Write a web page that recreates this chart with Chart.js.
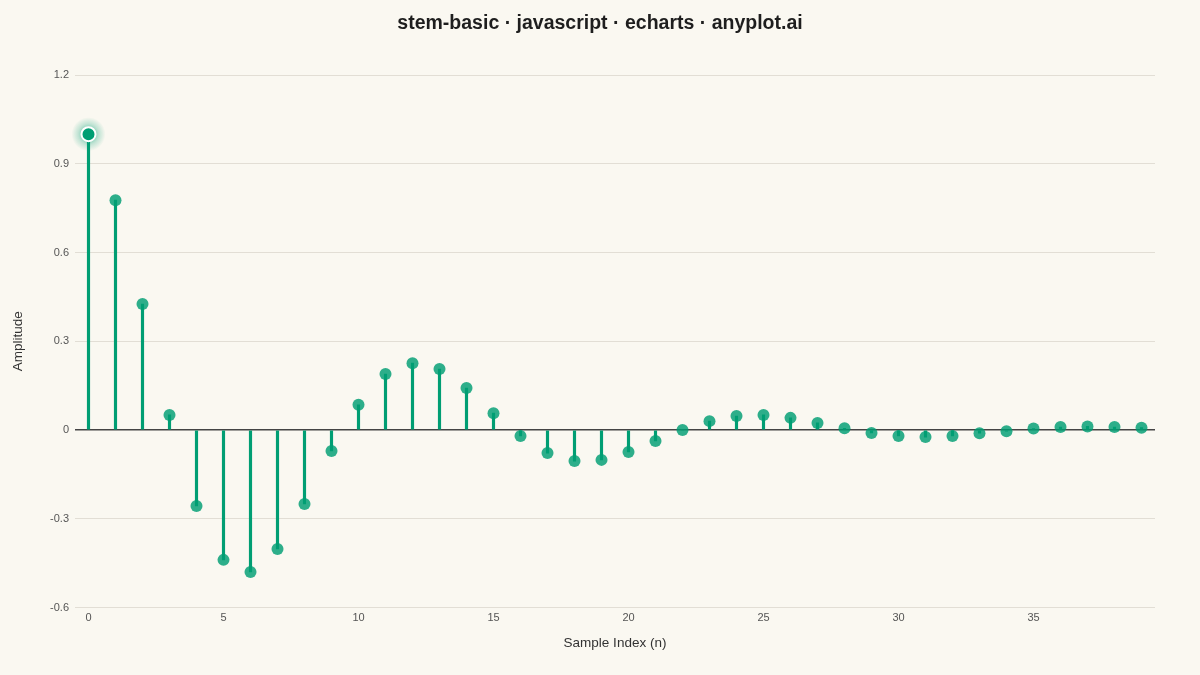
<!DOCTYPE html>
<html>
<head>
<meta charset="utf-8">
<script src="https://cdn.jsdelivr.net/npm/chart.js@4.4.1/dist/chart.umd.min.js"></script>
<style>
  html, body { margin: 0; padding: 0; background: #FAF8F1; }
  #wrap { width: 1200px; height: 675px; }
</style>
</head>
<body>
<div id="wrap"><canvas id="stem" width="1200" height="675"></canvas></div>
<script>
// sample indices 0..39 and amplitudes
const sampleIndex = [
    0, 1, 2, 3, 4, 5, 6, 7, 8, 9,
    10, 11, 12, 13, 14, 15, 16, 17, 18, 19,
    20, 21, 22, 23, 24, 25, 26, 27, 28, 29,
    30, 31, 32, 33, 34, 35, 36, 37, 38, 39
];
const amplitude = [
    1.000, 0.777, 0.426, 0.051, -0.257, -0.439, -0.480, -0.402, -0.250, -0.071,
    0.085, 0.189, 0.226, 0.206, 0.142, 0.057, -0.020, -0.078, -0.105, -0.101,
    -0.074, -0.037, 0.000, 0.030, 0.047, 0.051, 0.041, 0.024, 0.006, -0.010,
    -0.020, -0.024, -0.020, -0.011, -0.004, 0.005, 0.010, 0.012, 0.010, 0.008
];
const yTicks = [-0.6, -0.3, 0, 0.3, 0.6, 0.9, 1.2];

const green = '#009E73';
const font = '"Liberation Sans", Arial, sans-serif';

// soft halo behind the first (peak) sample
const glowPlugin = {
    id: 'glow',
    beforeDatasetsDraw(chart) {
        const pt = chart.getDatasetMeta(1).data[0];
        if (!pt) return;
        const ctx = chart.ctx;
        ctx.save();
        const g = ctx.createRadialGradient(pt.x, pt.y, 4, pt.x, pt.y, 17);
        g.addColorStop(0, 'rgba(0, 158, 115, 0.55)');
        g.addColorStop(0.5, 'rgba(0, 158, 115, 0.22)');
        g.addColorStop(1, 'rgba(0, 158, 115, 0)');
        ctx.fillStyle = g;
        ctx.beginPath();
        ctx.arc(pt.x, pt.y, 17, 0, Math.PI * 2);
        ctx.fill();
        ctx.restore();
    }
};

new Chart(document.getElementById('stem').getContext('2d'), {
    data: {
        labels: sampleIndex,
        datasets: [
            {
                type: 'bar',
                data: amplitude,
                backgroundColor: green,
                barThickness: 2.5,
                order: 2
            },
            {
                type: 'line',
                data: amplitude,
                showLine: false,
                pointRadius: sampleIndex.map(i => i === 0 ? 7 : 6),
                pointBackgroundColor: sampleIndex.map(i => i === 0 ? green : 'rgba(0, 158, 115, 0.82)'),
                pointBorderColor: sampleIndex.map(i => i === 0 ? '#FFFFFF' : 'rgba(0, 0, 0, 0)'),
                pointBorderWidth: sampleIndex.map(i => i === 0 ? 2 : 0),
                order: 1
            }
        ]
    },
    options: {
        responsive: false,
        devicePixelRatio: 1,
        animation: false,
        layout: { padding: 0 },
        plugins: {
            legend: { display: false },
            tooltip: { enabled: false },
            title: {
                display: true,
                text: 'stem-basic · javascript · echarts · anyplot.ai',
                color: '#1E1E1E',
                font: { family: font, size: 19.5, weight: 'bold' },
                padding: { top: 12, bottom: 39.6 }
            }
        },
        scales: {
            x: {
                type: 'category',
                offset: true,
                grid: { display: false, drawTicks: false },
                border: { display: false },
                ticks: {
                    color: '#555555',
                    font: { family: font, size: 11 },
                    padding: 4,
                    maxRotation: 0,
                    autoSkip: false,
                    callback: (v, i) => i % 5 === 0 ? String(sampleIndex[i]) : ''
                },
                title: {
                    display: true,
                    text: 'Sample Index (n)',
                    color: '#333333',
                    font: { family: font, size: 13.5 },
                    padding: { top: 0, bottom: 24 }
                },
                afterFit: s => { s.height = 67.5; }
            },
            y: {
                min: yTicks[0],
                max: yTicks[yTicks.length - 1],
                afterBuildTicks: s => { s.ticks = yTicks.map(v => ({ value: v })); },
                grid: {
                    drawTicks: false,
                    color: c => c.tick && c.tick.value === 0 ? '#444444' : '#E2DED5',
                    lineWidth: c => c.tick && c.tick.value === 0 ? 1.5 : 1
                },
                border: { display: false },
                ticks: {
                    color: '#555555',
                    font: { family: font, size: 11 },
                    padding: 6,
                    callback: v => String(Number(v.toFixed(1)))
                },
                title: {
                    display: true,
                    text: 'Amplitude',
                    color: '#333333',
                    font: { family: font, size: 13.5 },
                    padding: { top: 10, bottom: 0 }
                },
                afterFit: s => { s.width = 75; }
            },
            // empty right-hand axis only reserves the right margin
            yRight: {
                position: 'right',
                grid: { display: false, drawTicks: false },
                border: { display: false },
                ticks: { display: false },
                afterFit: s => { s.width = 45; }
            }
        }
    },
    plugins: [glowPlugin]
});
</script>
</body>
</html>
